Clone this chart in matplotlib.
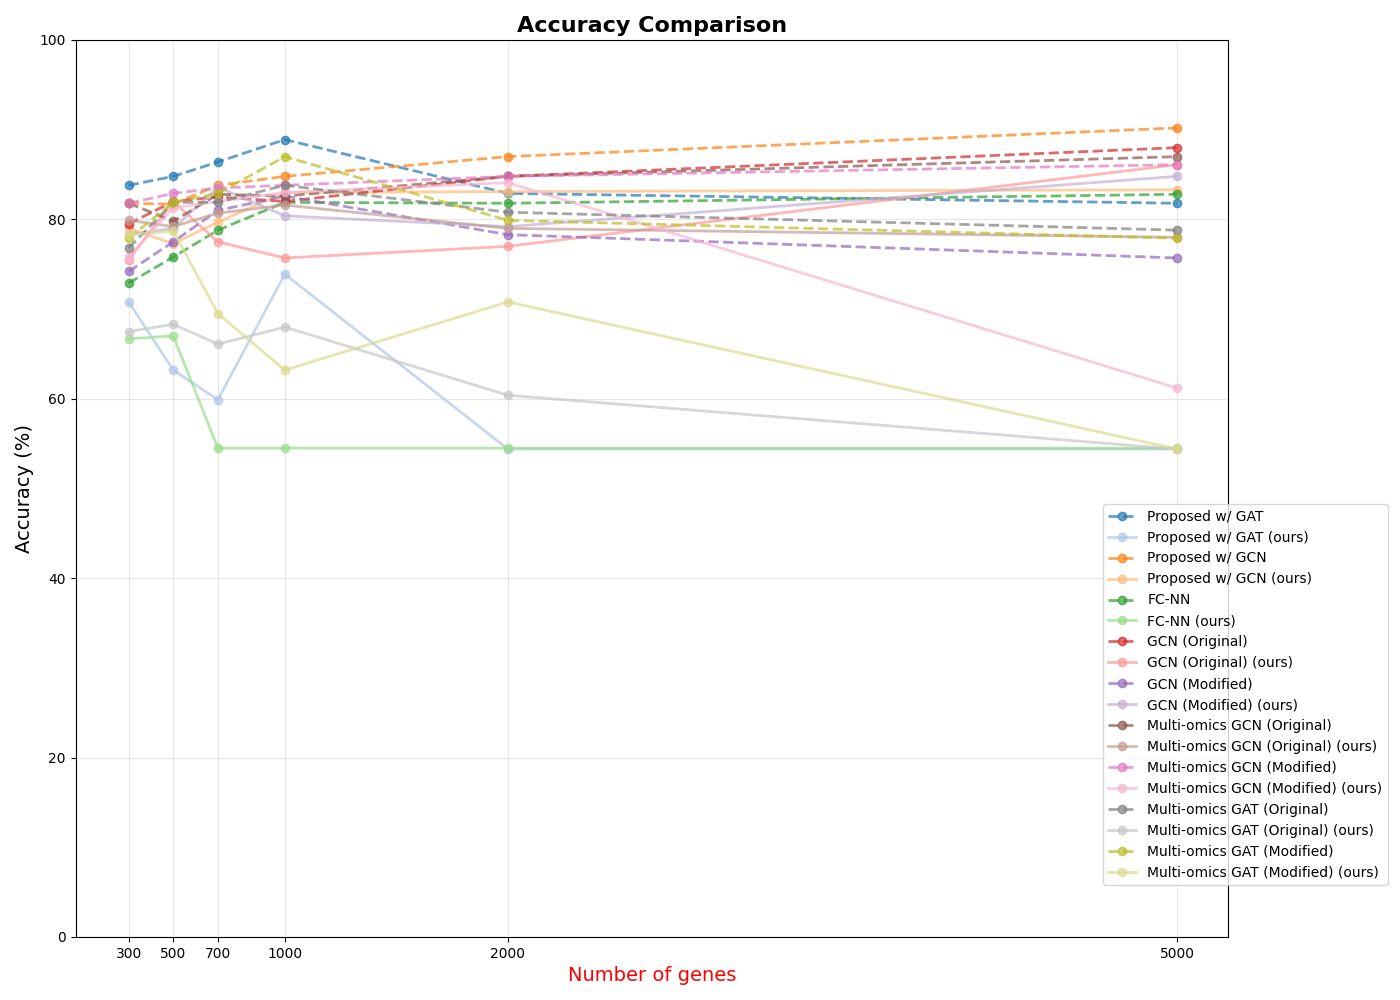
import matplotlib
matplotlib.use("Agg")
import matplotlib.pyplot as plt

genes = [300, 500, 700, 1000, 2000, 5000]
labels = ["Proposed w/ GAT", "Proposed w/ GAT (ours)", "Proposed w/ GCN", "Proposed w/ GCN (ours)",
          "FC-NN", "FC-NN (ours)", "GCN (Original)", "GCN (Original) (ours)",
          "GCN (Modified)", "GCN (Modified) (ours)", "Multi-omics GCN (Original)",
          "Multi-omics GCN (Original) (ours)", "Multi-omics GCN (Modified)",
          "Multi-omics GCN (Modified) (ours)", "Multi-omics GAT (Original)",
          "Multi-omics GAT (Original) (ours)", "Multi-omics GAT (Modified)",
          "Multi-omics GAT (Modified) (ours)"]
values = [
    [83.8, 84.8, 86.4, 88.9, 82.9, 81.8],
    [70.8, 63.2, 59.9, 73.9, 54.4, 54.4],
    [81.8, 81.7, 83.8, 84.8, 87.0, 90.2],
    [79.0, 77.3, 79.7, 83.0, 83.1, 83.3],
    [72.9, 75.8, 78.8, 81.9, 81.8, 82.8],
    [66.7, 67.0, 54.5, 54.5, 54.5, 54.5],
    [79.5, 82.0, 82.5, 82.0, 84.8, 88.0],
    [75.5, 82.0, 77.5, 75.7, 77.0, 86.1],
    [74.2, 77.5, 81.0, 82.6, 78.3, 75.7],
    [78.3, 79.0, 83.6, 80.4, 79.2, 84.8],
    [81.8, 79.8, 82.8, 82.6, 84.8, 87.0],
    [79.9, 79.2, 80.7, 81.6, 79.0, 78.0],
    [81.8, 82.9, 83.5, 83.8, 84.8, 86.1],
    [75.8, 81.3, 82.0, 83.0, 84.1, 61.2],
    [76.8, 81.9, 81.9, 83.8, 80.8, 78.8],
    [67.5, 68.3, 66.1, 68.0, 60.4, 54.4],
    [77.9, 81.9, 82.9, 87.0, 79.9, 77.9],
    [78.3, 78.7, 69.5, 63.2, 70.8, 54.4],
]

cmap = plt.get_cmap("tab20")
fig = plt.figure(figsize=(14, 10), dpi=100)
ax = fig.add_axes([0.054, 0.063, 0.823, 0.897])
for i, (lab, vals) in enumerate(zip(labels, values)):
    ls = "-" if "(ours)" in lab else "--"
    ax.plot(genes, vals, ls, marker="o", color=cmap(i), lw=2, ms=6, alpha=0.7, label=lab)

ax.set_xlim(62, 5228)
ax.set_ylim(0, 100)
ax.set_xticks(genes)
ax.set_xticklabels([str(g) for g in genes])
ax.set_yticks([0, 20, 40, 60, 80, 100])
ax.grid(True, alpha=0.3)
ax.set_title("Accuracy Comparison", fontsize=16, fontweight="bold")
ax.set_xlabel("Number of genes", fontsize=14, color="red")
ax.set_ylabel("Accuracy (%)", fontsize=14)
ax.legend(loc="lower right", bbox_to_anchor=(1.145, 0.05), fontsize=10)
fig.savefig("out.png", dpi=100)
